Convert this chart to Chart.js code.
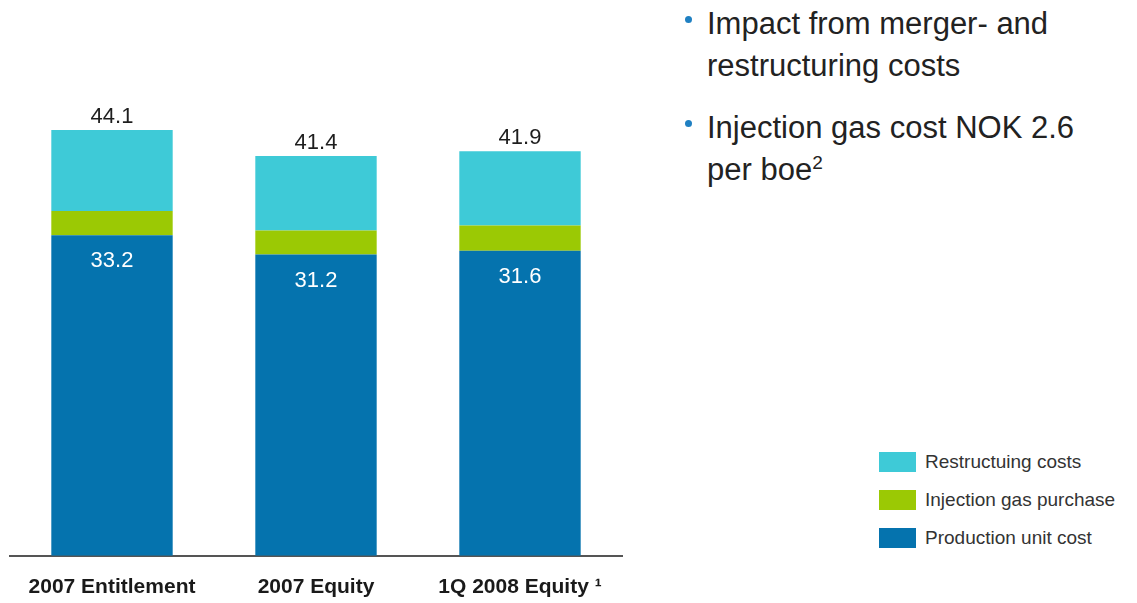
<!DOCTYPE html>
<html>
<head>
<meta charset="utf-8">
<script src="https://cdn.jsdelivr.net/npm/chart.js@4.4.0/dist/chart.umd.min.js"></script>
<style>
  body { margin: 0; background: #fff; font-family: "Liberation Sans", Arial, sans-serif; }
  #wrap { position: relative; width: 1137px; height: 603px; overflow: hidden; }
  #chartBox { position: absolute; left: 0; top: 0; width: 640px; height: 622px; }
  .bullet { position: absolute; left: 707px; font-size: 31px; line-height: 42px; color: #222; }
  .bullet::before { content: ""; position: absolute; left: -22px; top: 13px; width: 7px; height: 7px;
                    border-radius: 50%; background: #1f80c2; }
  .bullet sup { font-size: 19px; vertical-align: 11px; line-height: 0; }
  #legend { position: absolute; left: 879px; top: 0; }
  .lg-row { position: absolute; left: 0; white-space: nowrap; height: 20px; }
  .lg-box { position: absolute; left: 0; top: 0; width: 37px; height: 20px; }
  .lg-text { position: absolute; left: 46px; top: -2px; font-size: 19px; line-height: 24px; color: #333; }
</style>
</head>
<body>
<div id="wrap">
  <div id="chartBox"><canvas id="costChart"></canvas></div>
  <div class="bullet" style="top:3px">Impact from merger- and<br>restructuring costs</div>
  <div class="bullet" style="top:107px">Injection gas cost NOK 2.6<br>per boe<sup>2</sup></div>
  <div id="legend"></div>
</div>
<script>
const categories = ['2007 Entitlement', '2007 Equity', '1Q 2008 Equity \u00b9'];
const productionCost = [33.2, 31.2, 31.6];
const injectionGas = [2.5, 2.5, 2.6];
const restructuring = [8.4, 7.7, 7.7];
const totals = [44.1, 41.4, 41.9];

const FONT = '"Liberation Sans", Arial, sans-serif';

// totals above each stack, production value inside the blue segment
const valueLabels = {
    id: 'valueLabels',
    afterDatasetsDraw(chart) {
        let ctx = chart.ctx;
        let prodMeta = chart.getDatasetMeta(0);
        let topMeta = chart.getDatasetMeta(2);
        ctx.save();
        ctx.textAlign = 'center';
        ctx.textBaseline = 'alphabetic';
        ctx.font = '22px ' + FONT;
        prodMeta.data.forEach((bar, i) => {
            ctx.fillStyle = '#fff';
            ctx.fillText(productionCost[i].toFixed(1), bar.x, bar.y + 32);
            let top = topMeta.data[i];
            ctx.fillStyle = '#1e1e1e';
            ctx.fillText(totals[i].toFixed(1), top.x, top.y - 7);
        });
        ctx.restore();
    }
};

const costChart = new Chart(document.getElementById('costChart'), {
    type: 'bar',
    data: {
        labels: categories,
        datasets: [{
            label: 'Production unit cost',
            data: productionCost,
            backgroundColor: '#0573ae',
        }, {
            label: 'Injection gas purchase',
            data: injectionGas,
            backgroundColor: '#9bc904',
        }, {
            label: 'Restructuing costs',
            data: restructuring,
            backgroundColor: '#3ecad7',
        }]
    },
    options: {
        responsive: true,
        maintainAspectRatio: false,
        animation: false,
        layout: { padding: { left: 10, right: 18, top: 73, bottom: 3 } },
        datasets: { bar: { barPercentage: 0.595, categoryPercentage: 1, borderWidth: 0 } },
        scales: {
            x: {
                stacked: true,
                grid: { display: false, drawTicks: false },
                border: { display: true, color: '#555', width: 2 },
                ticks: {
                    color: '#1a1a1a',
                    padding: 19,
                    font: { family: FONT, size: 21, weight: 'bold' }
                }
            },
            y: {
                stacked: true,
                display: false,
                min: 0,
                max: 50
            }
        },
        plugins: {
            legend: { display: false },
            tooltip: { enabled: false }
        }
    },
    plugins: [valueLabels]
});

// legend built from the datasets, top to bottom in stack order
let legendRows = [462, 500, 538];
let legendEl = document.getElementById('legend');
costChart.data.datasets.slice().reverse().forEach((ds, i) => {
    let row = document.createElement('div');
    row.className = 'lg-row';
    row.style.top = (legendRows[i] - 10) + 'px';
    row.innerHTML = '<span class="lg-box" style="background:' + ds.backgroundColor + '"></span>' +
                    '<span class="lg-text">' + ds.label + '</span>';
    legendEl.appendChild(row);
});
</script>
</body>
</html>
